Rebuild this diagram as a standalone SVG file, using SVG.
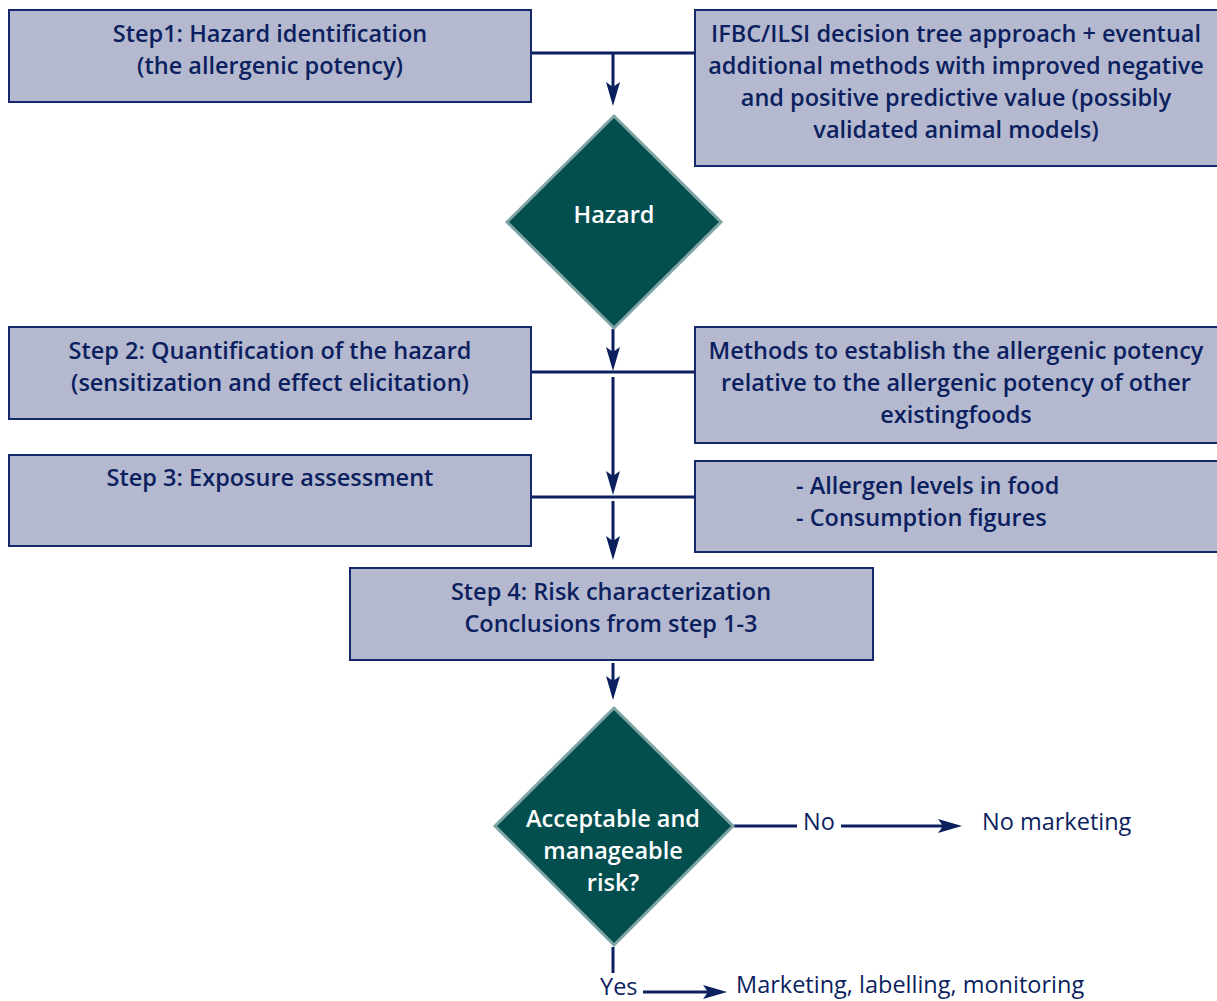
<svg xmlns="http://www.w3.org/2000/svg" width="1217" height="1001" viewBox="0 0 1217 1001">
<style>
.box{fill:#b4b9d0;stroke:#14286a;stroke-width:2}
.dia{fill:#034f50;stroke:#7fa4a5;stroke-width:3}
.t{font-family:"Open Sans","Liberation Sans",sans-serif;font-size:23.5px;font-weight:600;fill:#0c1f5e;text-anchor:middle}
.tl{text-anchor:start}
.w{fill:#ffffff}
.r{font-family:"Open Sans","Liberation Sans",sans-serif;font-size:23.5px;font-weight:400;fill:#0c1f5e}
.c{stroke:#0c1f5e;stroke-width:3;fill:none}
</style>
<defs>
<marker id="ah" viewBox="0 0 24 14" refX="16" refY="7" markerWidth="24" markerHeight="14" markerUnits="userSpaceOnUse" orient="auto">
<path d="M0,0 L24,7 L0,14 L5,7 Z" fill="#0c1f5e"/>
</marker>
</defs>
<rect width="1217" height="1001" fill="#ffffff"/>
<g id="connectors">
<path class="c" d="M531,53 H695"/>
<path class="c" d="M613,53 V98" marker-end="url(#ah)"/>
<path class="c" d="M613,329 V363" marker-end="url(#ah)"/>
<path class="c" d="M531,372 H695"/>
<path class="c" d="M613,377 V487" marker-end="url(#ah)"/>
<path class="c" d="M531,497 H695"/>
<path class="c" d="M613,501 V552" marker-end="url(#ah)"/>
<path class="c" d="M613,663 V692" marker-end="url(#ah)"/>
<path class="c" d="M734,826 H797"/>
<path class="c" d="M841,826 H954" marker-end="url(#ah)"/>
<path class="c" d="M613,947 V973"/>
<path class="c" d="M643,992 H719" marker-end="url(#ah)"/>
</g>
<g id="step1">
<rect class="box" x="9" y="10" width="522" height="92"/>
<text class="t" x="270" y="42">Step1: Hazard identification</text>
<text class="t" x="270" y="74">(the allergenic potency)</text>
</g>
<g id="ifbc">
<rect class="box" x="695" y="10" width="530" height="156"/>
<text class="t" x="956" y="42">IFBC/ILSI decision tree approach + eventual</text>
<text class="t" x="956" y="74">additional methods with improved negative</text>
<text class="t" x="956" y="106">and positive predictive value (possibly</text>
<text class="t" x="956" y="138">validated animal models)</text>
</g>
<g id="hazard">
<polygon class="dia" points="614,116 721,222 614,328 507,222"/>
<text class="t w" x="614" y="223">Hazard</text>
</g>
<g id="step2">
<rect class="box" x="9" y="327" width="522" height="92"/>
<text class="t" x="270" y="359">Step 2: Quantification of the hazard</text>
<text class="t" x="270" y="391">(sensitization and effect elicitation)</text>
</g>
<g id="methods">
<rect class="box" x="695" y="327" width="530" height="116"/>
<text class="t" x="956" y="359">Methods to establish the allergenic potency</text>
<text class="t" x="956" y="391">relative to the allergenic potency of other</text>
<text class="t" x="956" y="423">existingfoods</text>
</g>
<g id="step3">
<rect class="box" x="9" y="455" width="522" height="91"/>
<text class="t" x="270" y="486">Step 3: Exposure assessment</text>
</g>
<g id="exposure">
<rect class="box" x="695" y="461" width="530" height="91"/>
<text class="t tl" x="796" y="494">- Allergen levels in food</text>
<text class="t tl" x="796" y="526">- Consumption figures</text>
</g>
<g id="step4">
<rect class="box" x="350" y="568" width="523" height="92"/>
<text class="t" x="611" y="600">Step 4: Risk characterization</text>
<text class="t" x="611" y="632">Conclusions from step 1-3</text>
</g>
<g id="decision">
<polygon class="dia" points="614,708 733,826 614,945 495,826"/>
<text class="t w" x="613" y="827">Acceptable and</text>
<text class="t w" x="613" y="859">manageable</text>
<text class="t w" x="613" y="891">risk?</text>
</g>
<g id="labels">
<text class="r" x="803" y="830">No</text>
<text class="r" x="982" y="830">No marketing</text>
<text class="r" x="600" y="995">Yes</text>
<text class="r" x="736" y="993">Marketing, labelling, monitoring</text>
</g>
</svg>
